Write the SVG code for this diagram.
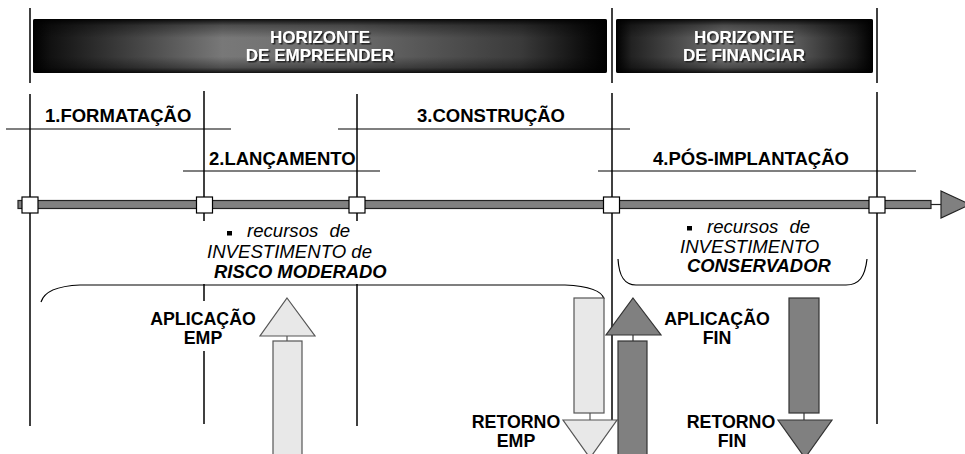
<svg xmlns="http://www.w3.org/2000/svg" width="965" height="454" viewBox="0 0 965 454">
<defs>
<linearGradient id="g1" x1="0" y1="0" x2="1" y2="0">
<stop offset="0" stop-color="#000"/><stop offset="0.03" stop-color="#111"/><stop offset="0.33" stop-color="#787878"/><stop offset="0.55" stop-color="#6c6c6c"/><stop offset="0.85" stop-color="#3a3a3a"/><stop offset="0.97" stop-color="#0a0a0a"/><stop offset="1" stop-color="#000"/>
</linearGradient>
<linearGradient id="g2" x1="0" y1="0" x2="1" y2="0">
<stop offset="0" stop-color="#000"/><stop offset="0.06" stop-color="#222"/><stop offset="0.42" stop-color="#747474"/><stop offset="0.7" stop-color="#5a5a5a"/><stop offset="0.93" stop-color="#1a1a1a"/><stop offset="1" stop-color="#000"/>
</linearGradient>
<linearGradient id="gv" x1="0" y1="0" x2="0" y2="1">
<stop offset="0" stop-color="#000" stop-opacity="0.9"/><stop offset="0.12" stop-color="#000" stop-opacity="0.35"/><stop offset="0.35" stop-color="#000" stop-opacity="0"/><stop offset="0.7" stop-color="#000" stop-opacity="0"/><stop offset="0.9" stop-color="#000" stop-opacity="0.35"/><stop offset="1" stop-color="#000" stop-opacity="0.85"/>
</linearGradient>
<filter id="sh" x="-10%" y="-30%" width="120%" height="160%">
<feDropShadow dx="1.5" dy="1.5" stdDeviation="0.4" flood-color="#222" flood-opacity="1"/>
</filter>
</defs>
<style>
.ln{stroke:#000;stroke-width:1.5;fill:none}
.thin{stroke:#000;stroke-width:1.2;fill:none}
.ban{font-family:"Liberation Sans",Arial,sans-serif;font-weight:bold;font-size:17px;fill:#fff;text-anchor:middle}
.ph{font-family:"Liberation Sans",Arial,sans-serif;font-weight:bold;font-size:18.5px;fill:#000}
.lb{font-family:"Liberation Sans",Arial,sans-serif;font-weight:bold;font-size:17.8px;fill:#000;text-anchor:middle}
.it{font-family:"Liberation Sans",Arial,sans-serif;font-style:italic;font-size:18.6px;fill:#000}
.bi{font-family:"Liberation Sans",Arial,sans-serif;font-style:italic;font-weight:bold;font-size:18.4px;fill:#000}
.sq{fill:#fff;stroke:#000;stroke-width:1.2}
.light{fill:#e8e8e8;stroke:#555;stroke-width:1.2}
.dark{fill:#808080;stroke:#333;stroke-width:1.2}
</style>
<rect width="965" height="454" fill="#fff"/>

<g id="grid">
<line class="ln" x1="30" y1="8" x2="30" y2="83"/>
<line class="ln" x1="612" y1="8" x2="612" y2="83"/>
<line class="ln" x1="877" y1="8" x2="877" y2="83"/>
<line class="ln" x1="30" y1="94" x2="30" y2="426"/>
<line class="ln" x1="204" y1="91" x2="204" y2="424"/>
<line class="ln" x1="357" y1="94" x2="357" y2="426"/>
<line class="ln" x1="612" y1="93" x2="612" y2="420"/>
<line class="ln" x1="877" y1="92" x2="877" y2="424"/>
</g>

<g id="banner-empreender">
<rect x="33" y="19" width="574" height="54" rx="2" fill="url(#g1)"/>
<rect x="33" y="19" width="574" height="54" rx="2" fill="url(#gv)"/>
<g filter="url(#sh)">
<text class="ban" x="320" y="42.5">HORIZONTE</text>
<text class="ban" x="320" y="60.5">DE EMPREENDER</text>
</g>
</g>
<g id="banner-financiar">
<rect x="616" y="19" width="257" height="54" rx="2" fill="url(#g2)"/>
<rect x="616" y="19" width="257" height="54" rx="2" fill="url(#gv)"/>
<g filter="url(#sh)">
<text class="ban" x="744" y="42.5">HORIZONTE</text>
<text class="ban" x="744" y="60.5">DE FINANCIAR</text>
</g>
</g>

<g id="phase1">
<line class="thin" x1="6" y1="129" x2="231" y2="129"/>
<text class="ph" x="45" y="122">1.FORMATAÇÃO</text>
</g>
<g id="phase2">
<line class="thin" x1="183" y1="171" x2="380" y2="171"/>
<text class="ph" x="209" y="165">2.LANÇAMENTO</text>
</g>
<g id="phase3">
<line class="thin" x1="338" y1="129" x2="630" y2="129"/>
<text class="ph" x="417" y="122">3.CONSTRUÇÃO</text>
</g>
<g id="phase4">
<line class="thin" x1="598" y1="171" x2="916" y2="171"/>
<text class="ph" x="653" y="165">4.PÓS-IMPLANTAÇÃO</text>
</g>

<g id="timeline">
<rect x="18" y="200.5" width="913" height="8" fill="#808080" stroke="#222" stroke-width="1.2"/>
<line x1="931" y1="204.5" x2="941" y2="204.5" stroke="#222" stroke-width="1.2"/>
<polygon points="941,191 970,204.5 941,218" fill="#808080" stroke="#222" stroke-width="1.2"/>
<rect class="sq" x="22" y="197" width="16" height="16"/>
<rect class="sq" x="196.5" y="197" width="16" height="16"/>
<rect class="sq" x="349" y="197" width="16" height="16"/>
<rect class="sq" x="603.5" y="197" width="16" height="16"/>
<rect class="sq" x="869" y="197" width="16" height="16"/>
</g>

<g id="note-risco">
<rect x="203" y="221" width="190" height="63" fill="#fff"/>
<rect x="227" y="231" width="5" height="4.5" fill="#000"/>
<text class="it" x="247" y="237" word-spacing="6">recursos de</text>
<text class="it" x="207" y="258">INVESTIMENTO de</text>
<text class="bi" x="214" y="278">RISCO MODERADO</text>
</g>
<g id="note-conservador">
<rect x="687" y="226" width="5" height="4.5" fill="#000"/>
<text class="it" x="707" y="233" word-spacing="6">recursos de</text>
<text class="it" x="680" y="253">INVESTIMENTO</text>
<text class="bi" x="687" y="272">CONSERVADOR</text>
</g>

<g id="connectors">
<path class="thin" d="M41,302 C44,292 56,286 80,285 L565,285 C588,286 602,291 604,299"/>
<path class="thin" d="M618,259 C619,276 624,285 636,285 L846,285 C859,285 865,277 867,259"/>
</g>

<g id="aplicacao-emp">
<polygon class="light" points="287,298 315,336 260,336"/>
<line x1="287" y1="336" x2="287" y2="341" stroke="#555" stroke-width="1.2"/>
<rect class="light" x="273" y="341" width="29" height="120"/>
<rect x="147" y="301" width="112" height="50" fill="#fff"/>
<text class="lb" x="203" y="325">APLICAÇÃO</text>
<text class="lb" x="203" y="344">EMP</text>
</g>

<g id="retorno-emp">
<rect class="light" x="574" y="298" width="30" height="115"/>
<line x1="590" y1="413" x2="590" y2="420" stroke="#555" stroke-width="1.2"/>
<polygon class="light" points="563,420 617,420 590,458"/>
<text class="lb" x="516" y="428">RETORNO</text>
<text class="lb" x="516" y="446.5">EMP</text>
</g>

<g id="aplicacao-fin">
<polygon class="dark" points="633,298 661,335 606,335"/>
<line x1="633" y1="335" x2="633" y2="341" stroke="#333" stroke-width="1.2"/>
<rect class="dark" x="618" y="341" width="29" height="120"/>
<text class="lb" x="717" y="325">APLICAÇÃO</text>
<text class="lb" x="717" y="343.5">FIN</text>
</g>

<g id="retorno-fin">
<rect class="dark" x="789" y="298" width="30" height="115"/>
<line x1="804" y1="413" x2="804" y2="420" stroke="#333" stroke-width="1.2"/>
<polygon class="dark" points="778,420 832,420 805,458"/>
<text class="lb" x="731" y="428">RETORNO</text>
<text class="lb" x="732" y="446.5">FIN</text>
</g>
</svg>
